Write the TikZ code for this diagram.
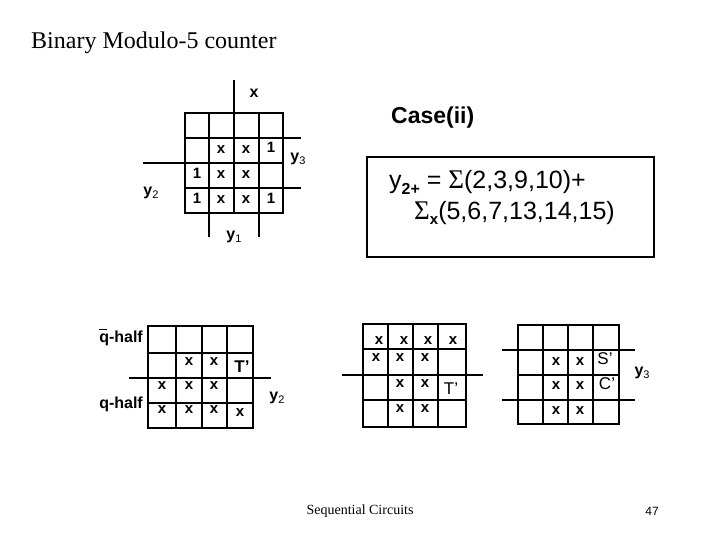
\documentclass[tikz,border=0pt]{standalone}
\usepackage{fontspec}
\setmainfont{Liberation Serif}
\setsansfont{Liberation Sans}
\newfontfamily\serifsig{Liberation Serif}
\newcommand{\kvar}[2]{{\bfseries #1}{\fontsize{11}{11}\selectfont\raisebox{-3pt}{#2}}}
\tikzset{
  grid/.style={line width=2.6pt, line cap=rect},
  ext/.style={line width=2.6pt},
  cellx/.style={font=\sffamily\bfseries\fontsize{15}{15}\selectfont, inner sep=0pt},
  lab/.style={font=\sffamily\fontsize{16}{16}\selectfont, inner sep=0pt},
  prime/.style={font=\sffamily\fontsize{17}{17}\selectfont, inner sep=0pt}
}
\begin{document}
\begin{tikzpicture}[x=1pt,y=-1pt]
\useasboundingbox (0,0) rectangle (720,540);
% title
\node[anchor=west, inner sep=0pt, font=\fontsize{24}{24}\selectfont] (title) at (31,43) {Binary Modulo-5 counter};
% ---------- top K-map ----------
\foreach \x in {185,209,234,259,283} \draw[grid] (\x,113) -- (\x,213);
\foreach \y in {113,138,163,188,213} \draw[grid] (185,\y) -- (283,\y);
\draw[ext] (234,80) -- (234,113);
\draw[ext] (283,138) -- (301,138);
\draw[ext] (283,188) -- (301,188);
\draw[ext] (143,163) -- (185,163);
\draw[ext] (209,213) -- (209,237);
\draw[ext] (259,213) -- (259,237);
\node[lab] (ax) at (254,93) {\bfseries x};
\node[lab] (ay3) at (298,159) {\kvar{y}{3}};
\node[lab] (ay2) at (151,193) {\kvar{y}{2}};
\node[lab] (ay1) at (234,237) {\kvar{y}{1}};
\node[cellx] (a11) at (221,150) {x};
\node[cellx] (a12) at (246,150) {x};
\node[cellx] (a13) at (271,147) {1};
\node[cellx] (a20) at (197,173) {1};
\node[cellx] (a21) at (221,175) {x};
\node[cellx] (a22) at (246,175) {x};
\node[cellx] (a30) at (197,198) {1};
\node[cellx] (a31) at (221,200) {x};
\node[cellx] (a32) at (246,200) {x};
\node[cellx] (a33) at (271,198) {1};
% ---------- Case(ii) ----------
\node[anchor=west, inner sep=0pt, font=\sffamily\bfseries\fontsize{23}{23}\selectfont] (case) at (391,118) {Case(ii)};
\draw[line width=2.2pt] (367,157) rectangle (654,257);
\node[anchor=west, inner sep=0pt, font=\sffamily\fontsize{25}{25}\selectfont] (eq1) at (389,182)
  {y{\bfseries\fontsize{16}{16}\selectfont\raisebox{-6pt}{2+}} = {\serifsig\fontsize{27}{27}\selectfont Σ}(2,3,9,10)+};
\node[anchor=west, inner sep=0pt, font=\sffamily\fontsize{25}{25}\selectfont] (eq2) at (414,213)
  {{\serifsig\fontsize{27}{27}\selectfont Σ}{\bfseries\fontsize{15}{15}\selectfont\raisebox{-5pt}{x}}(5,6,7,13,14,15)};
% ---------- bottom-left K-map ----------
\foreach \x in {148,176,202,227,253} \draw[grid] (\x,326) -- (\x,428);
\foreach \y in {326,353,378,403,428} \draw[grid] (148,\y) -- (253,\y);
\draw[ext] (129,378) -- (271,378);
\node[lab, anchor=east] (bq1) at (143,337) {\bfseries\rlap{\rule[12pt]{8pt}{1.4pt}}q-half};
\node[lab, anchor=east] (bq2) at (143,404) {\bfseries q-half};
\node[lab] (by2) at (277,398) {\kvar{y}{2}};
\node[cellx] (b11) at (189,362) {x};
\node[cellx] (b12) at (214,362) {x};
\node[prime] (b13) at (242,367) {\bfseries T'};
\node[cellx] (b20) at (162,386) {x};
\node[cellx] (b21) at (189,386) {x};
\node[cellx] (b22) at (214,386) {x};
\node[cellx] (b30) at (162,410) {x};
\node[cellx] (b31) at (189,410) {x};
\node[cellx] (b32) at (214,410) {x};
\node[cellx] (b33) at (240,413) {x};
% ---------- bottom-middle K-map ----------
\foreach \x in {363,388,413,438,466} \draw[grid] (\x,324) -- (\x,427);
\foreach \y in {324,349,375,400,427} \draw[grid] (363,\y) -- (466,\y);
\draw[ext] (342,375) -- (483,375);
\node[cellx] (c00) at (379,341) {x};
\node[cellx] (c01) at (404,341) {x};
\node[cellx] (c02) at (428,341) {x};
\node[cellx] (c03) at (453,341) {x};
\node[cellx] (c10) at (376,358) {x};
\node[cellx] (c11) at (400,358) {x};
\node[cellx] (c12) at (425,358) {x};
\node[cellx] (c21) at (400,384) {x};
\node[cellx] (c22) at (425,384) {x};
\node[prime] (c23) at (451,389) {T'};
\node[cellx] (c31) at (400,409) {x};
\node[cellx] (c32) at (425,409) {x};
% ---------- bottom-right K-map ----------
\foreach \x in {518,543,568,593,619} \draw[grid] (\x,325) -- (\x,424);
\foreach \y in {325,350,375,400,424} \draw[grid] (518,\y) -- (619,\y);
\draw[ext] (502,350) -- (635,350);
\draw[ext] (502,400) -- (635,400);
\node[lab] (dy3) at (642,373) {\kvar{y}{3}};
\node[cellx] (d11) at (556,362) {x};
\node[cellx] (d12) at (580,362) {x};
\node[prime] (d13) at (605,359) {S'};
\node[cellx] (d21) at (556,386) {x};
\node[cellx] (d22) at (580,386) {x};
\node[prime] (d23) at (607,384) {C'};
\node[cellx] (d31) at (556,411) {x};
\node[cellx] (d32) at (580,411) {x};
% ---------- footer ----------
\node[inner sep=0pt, font=\fontsize{14}{14}\selectfont] (foot) at (360,511) {Sequential Circuits};
\node[inner sep=0pt, font=\sffamily\fontsize{12}{12}\selectfont] (page) at (652,511) {47};
\end{tikzpicture}
\end{document}
